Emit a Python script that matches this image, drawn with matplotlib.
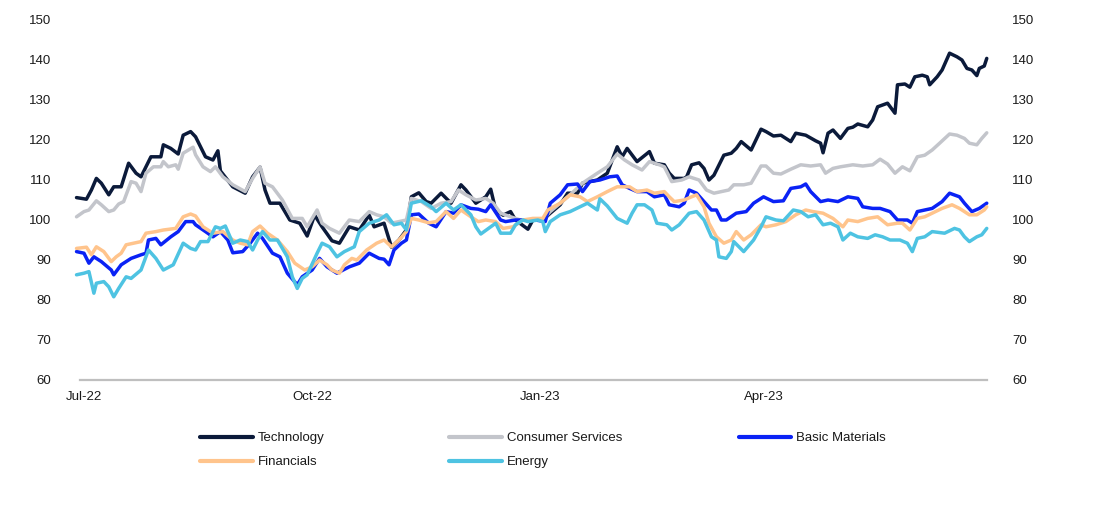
import matplotlib
matplotlib.use("Agg")
import matplotlib.pyplot as plt
import matplotlib.dates as mdates
import matplotlib.lines as mlines
import pandas as pd

plt.rcParams['font.family'] = ['Liberation Sans', 'DejaVu Sans']

base_date = pd.Timestamp('2022-07-01')

tech_days = [-3,1,3,5,7,10,12,15,18,21, 23,27,31,32,35,38,40,43,45,49, 52,54,55,60,65,68,71,73,75,79,
             83,87,90,93,96,100,103,107,111,115, 117,121,124,127,130,132,135,138,140,144,
             148,152,154,158,162,164,166,169,172,174, 179,181,185,188,192,195,199,201,207,211,
             215,217,219,223,228,230,234,236,238,242, 243,245,248,250,252,254,258,261,263,265,
             269,273,275,278,281,285,287,291,295,297, 298,300,302,305,308,310,312,316,318,320,
             324,327,328,331,333,335,338,340,341,344, 346,349,352,354,356,358,360,361,363,364]
tech_vals = [105.6,105.2,107.5,110.4,109.2,106.3,108.3,108.3,114.2,111.7,
             110.8,115.8,115.8,118.8,117.9,116.5,121.2,122.1,120.8,115.8,
             115.0,117.3,112.3,108.3,106.7,110.8,113.2,107.5,104.2,104.2,
             100.0,99.2,96.0,101.2,98.3,94.8,94.2,98.3,97.5,101.2,
             98.3,99.2,93.2,95.0,97.5,105.8,106.8,104.6,104.2,106.7,
             104.2,108.8,107.5,104.2,105.8,107.7,102.5,101.2,102.1,100.0,
             97.7,100.0,100.0,101.7,103.8,106.7,106.7,109.2,110.0,111.7,
             118.3,115.8,117.9,114.6,117.1,114.2,113.8,111.7,110.4,110.4,
             110.8,113.8,114.3,112.9,110.0,111.2,116.2,116.7,117.9,119.6,
             117.5,122.7,122.1,121.0,121.2,119.6,121.7,121.2,119.8,119.2,
             116.8,121.7,122.5,120.4,122.9,123.2,124.0,123.3,125.0,128.3,
             129.2,126.7,133.8,134.0,133.2,135.8,136.2,135.8,133.8,135.8,
             137.5,141.7,140.8,140.0,137.9,137.5,136.1,137.9,138.5,140.4]

cons_days = [-3,0,2,5,7,10,12,14,16,19, 21,23,25,28,31,32,34,37,38,40, 44,45,48,51,53,56,60,65,68,71,
             73,76,80,84,88,90,94,96,99,103, 107,111,115,118,121,124,127,130,132,136,
             140,144,148,151,154,158,162,165,168,172, 176,180,185,188,192,196,201,207,211,215,
             218,221,225,228,232,234,237,241,244,248, 251,254,257,260,262,266,269,273,275,278,
             281,285,289,293,297,299,302,305,310,314, 318,321,324,327,330,333,336,339,342,345,
             349,352,355,357,360,362,364]
cons_vals = [100.8,102.1,102.5,104.8,103.8,102.1,102.5,104.0,104.6,109.6,
             109.2,107.1,111.7,113.3,113.3,114.6,113.3,113.8,112.7,116.7,
             118.2,116.3,113.3,112.1,113.3,110.8,108.8,107.1,110.4,113.3,
             109.2,108.3,105.0,100.4,100.4,98.3,102.5,99.2,97.9,96.7,
             100.0,99.6,102.1,101.3,100.8,99.2,99.6,100.0,105.4,104.6,
             102.9,104.2,104.6,107.5,106.3,105.0,105.4,104.2,101.7,100.8,
             100.0,100.0,100.0,102.1,104.2,106.3,109.2,111.7,113.3,116.5,
             115.0,113.8,112.5,114.6,113.8,113.3,109.6,110.0,110.8,110.0,
             107.5,106.7,107.1,107.5,108.8,108.8,109.2,113.5,113.5,111.7,
             111.5,112.7,113.8,113.5,113.8,111.7,112.9,113.3,113.8,113.5,
             113.8,115.2,114.0,111.7,113.3,112.3,115.8,116.2,117.5,119.2,
             121.5,121.2,120.4,119.2,118.8,120.4,121.8]

basic_days = [-3,0,2,4,7,11,12,15,19,23, 25,26,29,31,35,38,41,44,45,49, 52,55,58,60,64,67,70,72,76,79,
              82,86,88,92,95,98,102,107,111,115, 119,121,123,125,128,130,132,135,139,142,
              146,149,152,156,159,162,164,168,170,174, 178,182,186,188,192,195,199,201,204,208,
              212,215,217,220,223,227,230,234,236,240, 242,244,247,250,253,255,257,259,263,267,
              270,274,278,282,285,289,291,293,297,300, 304,308,312,314,318,321,325,328,332,334,
              336,339,342,346,349,353,355,358,361,364]
basic_vals = [92.1,91.7,89.2,90.8,89.6,87.5,86.3,88.8,90.4,91.3,
              91.7,95.0,95.4,93.8,95.8,97.1,99.6,99.6,98.8,97.1,
              95.8,97.1,95.0,91.8,92.1,94.2,96.7,95.4,91.7,90.8,
              86.7,83.8,85.8,87.5,90.4,88.3,86.7,88.3,89.2,91.7,
              90.4,90.2,88.8,92.5,94.2,95.0,101.3,101.5,99.2,98.3,
              102.1,101.7,103.8,102.9,102.7,102.1,103.8,100.0,99.6,100.0,
              100.0,100.0,99.6,104.2,106.3,108.8,109.0,107.1,109.6,110.0,
              110.8,111.0,108.8,107.9,107.1,107.1,105.8,106.3,103.8,103.3,
              104.2,107.5,106.7,104.6,102.5,102.5,100.0,100.0,101.7,102.1,
              104.2,105.8,104.6,104.8,107.9,108.3,109.0,107.1,104.6,105.0,
              104.6,105.8,105.4,103.3,102.9,102.9,102.1,100.0,100.0,99.2,
              102.1,102.5,102.9,104.6,106.7,105.8,104.2,102.1,102.9,104.2]

fin_days = [-3,1,3,5,8,11,13,15,17,23, 25,29,32,37,40,43,45,48,52,56, 60,63,66,68,71,74,78,82,85,89,
            92,95,98,100,103,105,108,110,114,118, 121,124,127,130,132,135,139,142,146,149,
            152,156,159,162,166,169,173,177,181,185, 187,192,196,200,203,207,211,215,220,223,
            227,230,234,236,238,242,245,247,250,252, 255,258,261,263,266,269,273,275,279,283,
            287,291,294,298,302,306,308,312,316,320, 324,328,330,333,336,339,342,346,350,353,
            357,360,363,364]
fin_vals = [92.9,93.2,91.3,93.3,92.1,89.6,90.8,91.7,93.8,94.6,
            96.7,97.1,97.5,97.9,100.8,101.5,101.0,98.3,96.7,97.1,
            95.0,94.2,93.8,97.1,98.5,96.7,95.0,92.1,89.2,87.5,
            88.3,90.0,88.8,87.5,86.7,88.8,90.4,90.0,92.5,94.2,
            95.0,93.3,95.0,97.1,100.4,100.0,99.3,99.6,102.1,100.4,
            102.5,100.8,99.6,100.0,99.6,97.9,98.3,100.0,100.4,100.4,
            102.5,104.2,106.3,105.8,104.6,105.8,107.1,108.3,108.3,107.1,
            107.5,106.7,107.1,105.8,104.6,105.0,105.8,106.3,103.3,99.2,
            95.8,94.2,95.0,97.1,95.0,96.3,98.8,98.3,98.8,99.6,
            101.3,102.5,102.1,101.7,100.4,98.3,100.0,99.6,100.4,100.8,
            98.8,99.2,99.2,97.5,100.4,100.8,101.7,102.9,103.8,102.9,
            101.3,101.3,102.5,103.3]

en_days = [-3,0,2,4,5,8,10,12,14,17, 19,23,26,29,32,36,40,43,45,47, 50,53,55,57,60,63,66,68,70,72,
           75,78,82,84,86,88,90,94,96,99, 102,105,109,111,115,119,122,125,128,130,
           132,136,140,142,146,149,152,156,158,160, 164,166,168,172,174,177,179,183,185,186,
           188,192,196,200,203,207,208,211,215,219, 221,223,226,229,231,235,237,240,244,247,
           250,253,255,256,259,261,262,266,270,273, 275,279,282,286,289,292,295,298,301,304,
           306,309,312,316,319,322,325,329,332,334, 336,339,342,347,351,353,355,357,360,362,
           364]
en_vals = [86.3,86.7,87.1,81.7,84.2,84.6,83.3,80.8,82.9,85.8,
           85.4,87.5,92.5,90.4,87.5,88.8,94.2,92.9,92.5,94.6,
           94.6,98.3,97.9,98.5,94.2,95.0,94.6,92.5,95.0,97.1,
           95.0,95.0,90.8,85.8,82.9,85.4,86.3,91.7,94.2,93.3,
           90.8,92.1,93.3,97.1,99.2,100.0,101.3,98.8,99.2,97.5,
           104.2,104.8,103.3,102.1,104.2,102.5,103.8,101.3,98.3,96.5,
           98.3,99.2,96.7,96.7,98.8,100.0,99.6,100.0,99.6,97.1,
           99.6,101.3,102.1,103.3,104.2,102.5,105.3,103.5,100.4,99.2,
           101.7,103.8,103.8,102.5,99.2,98.8,97.5,98.8,101.7,102.1,
           100.0,95.8,95.0,90.8,90.4,92.1,94.6,92.1,95.0,98.3,
           100.8,100.0,99.8,102.5,102.1,100.8,101.3,98.8,99.2,98.3,
           95.0,96.7,95.8,95.4,96.3,95.8,95.0,95.0,94.2,92.1,
           95.4,95.8,97.1,96.7,97.9,97.5,95.8,94.6,95.8,96.3,
           97.9]

series_names = ['Technology', 'Consumer Services', 'Basic Materials', 'Financials', 'Energy']
series_days = [tech_days, cons_days, basic_days, fin_days, en_days]
series_vals = [tech_vals, cons_vals, basic_vals, fin_vals, en_vals]
series_colors = ['#0b1a3a', '#c3c5cb', '#0a22f5', '#ffc48c', '#4ec3e2']

y_ticks = [60, 70, 80, 90, 100, 110, 120, 130, 140, 150]
x_tick_dates = ['2022-07-01', '2022-10-01', '2023-01-01', '2023-04-01']

W, H = 1098, 517
fig = plt.figure(figsize=(W / 100, H / 100), dpi=100)
ax = fig.add_axes([80 / W, 137 / H, 907 / W, 360 / H])

lines = []
for name, d, v, c in zip(series_names, series_days, series_vals, series_colors):
    dates = base_date + pd.to_timedelta(d, unit='D')
    ln, = ax.plot(dates, v, color=c, lw=2.5, label=name, clip_on=False,
                  solid_joinstyle='round', solid_capstyle='round')
    lines.append(ln)

ax.set_xlim(base_date - pd.Timedelta(days=1.6), base_date + pd.Timedelta(days=364.1))
ax.set_ylim(60, 150)
ax.set_yticks(y_ticks)
ax.set_xticks(pd.to_datetime(x_tick_dates))
ax.xaxis.set_major_formatter(mdates.DateFormatter('%b-%y'))

for s in ['top', 'right', 'left']:
    ax.spines[s].set_visible(False)
ax.spines['bottom'].set_color('#bfbfbf')
ax.spines['bottom'].set_linewidth(1.6)

tc = '#1a1a1a'
ax.tick_params(axis='y', length=0, pad=21, labelsize=9.5, labelcolor=tc)
ax.tick_params(axis='x', length=0, pad=8, labelsize=9.5, labelcolor=tc)

ax2 = ax.twinx()
ax2.set_ylim(60, 150)
ax2.set_yticks(y_ticks)
for s in ['top', 'right', 'left', 'bottom']:
    ax2.spines[s].set_visible(False)
ax2.tick_params(axis='y', length=0, pad=18, labelsize=9.5, labelcolor=tc)

# legend, placed entry by entry
leg_pos = [(200, 438), (449.5, 438), (738.5, 438), (200, 462), (449.5, 462)]
for ln, (px, py) in zip(lines, leg_pos):
    h = mlines.Line2D([], [], color=ln.get_color(), lw=3.0, solid_capstyle='round')
    fig.legend(handles=[h], labels=[ln.get_label()], loc='center left',
               bbox_to_anchor=(px / W, 1 - py / H), frameon=False, fontsize=9.5,
               handlelength=4.0, handletextpad=0.38, borderpad=0, borderaxespad=0,
               labelcolor=tc)

fig.savefig('out.png', dpi=100)
